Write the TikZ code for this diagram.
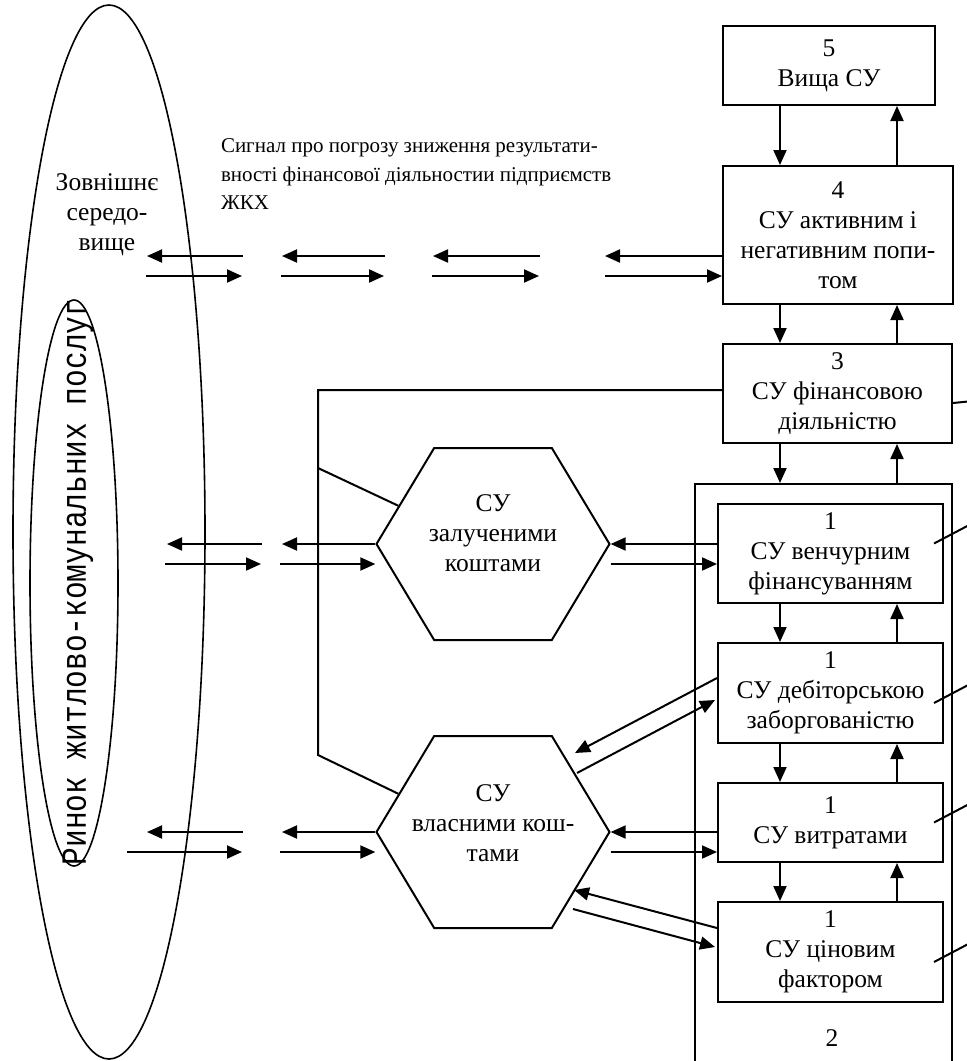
\documentclass[tikz,border=0pt]{standalone}
\usepackage{fontspec}
\usepackage{graphicx}
\setmainfont{Liberation Serif}
\newfontfamily\monofont{Liberation Mono}
\usetikzlibrary{arrows.meta,shapes.geometric,shapes.symbols,calc}

\begin{document}
\begin{tikzpicture}[x=1pt,y=-1pt,line width=2pt,
    every node/.style={font=\fontsize{25.5}{30}\selectfont, inner sep=0pt},
    arr/.style={-{Triangle[length=15pt,width=13pt]}},
    box/.style={draw, rectangle, align=center},
    hexa/.style={draw, signal, signal to=east and west, signal pointer angle=118,
      minimum width=233pt, minimum height=192pt}]

    \useasboundingbox (0,0) rectangle (967,1061);

    % Environment and market
    \node [draw, ellipse, line width=1.6pt, minimum width=192pt, minimum height=1054pt] (env) at (109,532) {};
    \node [draw, ellipse, line width=1.6pt, minimum width=88pt, minimum height=566pt] (mkt) at (74,583) {};
    \node [rotate=90] (mkttext) at (78,582)
      {\scalebox{1}[1.2]{\fontsize{29.5}{30}\monofont Ринок житлово-комунальних послуг}};
    \node [align=center] (envtext) at (107,215) {Зовнішнє\\середо-\\вище};
    \node [align=left, anchor=north west, font=\fontsize{21}{28.5}\selectfont] (sig) at (220,138)
      {Сигнал про погрозу зниження результати-\\вності фінансової діяльностии підприємств\\ЖКХ};

    % Control levels
    \node [box, minimum width=212pt, minimum height=79pt]  (b5) at (829,65.5)  {5\\Вища СУ};
    \node [box, minimum width=230pt, minimum height=138pt] (b4) at (838,235)   {4\\СУ активним і\\негативним попи-\\том};
    \node [box, minimum width=229pt, minimum height=99pt]  (b3) at (837.5,393.5) {3\\СУ фінансовою\\діяльністю};
    \node [box, minimum width=257pt, minimum height=600pt] (b2) at (823.5,784) {};
    \node (n2) at (832,1038) {2};
    \node [box, minimum width=225pt, minimum height=99pt]  (b1a) at (830.5,553.5) {1\\СУ венчурним\\фінансуванням};
    \node [box, minimum width=225pt, minimum height=100pt] (b1b) at (830.5,693)   {1\\СУ дебіторською\\заборгованістю};
    \node [box, minimum width=225pt, minimum height=79pt]  (b1c) at (830.5,822.5) {1\\СУ витратами};
    \node [box, minimum width=225pt, minimum height=100pt] (b1d) at (830.5,952)   {1\\СУ ціновим\\фактором};

    % Funds
    \node [hexa] (zal)  at (493,544) {};
    \node [align=center] (zaltext) at (493,533) {СУ\\залученими\\коштами};
    \node [hexa] (vlas) at (493,832) {};
    \node [align=center] (vlastext) at (493,823) {СУ\\власними кош-\\тами};

    % Links between levels
    \coordinate (dn) at (780,0);
    \coordinate (up) at (897,0);
    \foreach \a/\b in {b5/b4, b4/b3, b3/b2, b1a/b1b, b1b/b1c, b1c/b1d} {
      \draw [arr] (\a.south -| dn) -- (\b.north -| dn);
      \draw [arr] (\b.north -| up) -- (\a.south -| up);
    }

    % Signal towards the environment
    \foreach \xa/\xb [count=\i] in {147/243, 282/385, 433/540} {
      \coordinate (tl\i) at (\xa,256);
      \coordinate (tr\i) at (\xb,256);
      \draw [arr] (tr\i) -- (tl\i);
      \draw [arr] ($(tl\i)+(-1,20)$) -- ($(tr\i)+(-1,20)$);
    }
    \coordinate (tl4) at (605,256);
    \draw [arr] (b4.west |- tl4) -- (tl4);
    \draw [arr] ($(tl4)+(0,20)$) -- ($(b4.west |- tl4)+(0,20)$);

    % Borrowed funds
    \coordinate (ml1) at (167,544);
    \coordinate (mr1) at (262,544);
    \coordinate (ml2) at (282,544);
    \draw [arr] (mr1) -- (ml1);
    \draw [arr] ($(ml1)+(-2,20)$) -- ($(mr1)+(-1,20)$);
    \draw [arr] (zal.west) -- (ml2);
    \draw [arr] ($(ml2)+(-2,20)$) -- ($(zal.west)+(0,20)$);
    \draw [arr] (b1a.west |- zal.east) -- (zal.east);
    \draw [arr] ($(zal.east)+(0,20)$) -- ($(b1a.west |- zal.east)+(0,20)$);

    % Own funds
    \coordinate (bl1) at (147,832);
    \coordinate (br1) at (243,832);
    \coordinate (bl2) at (282,832);
    \draw [arr] (br1) -- (bl1);
    \draw [arr] ($(bl1)+(-20,20)$) -- ($(br1)+(-1,20)$);
    \draw [arr] (vlas.west) -- (bl2);
    \draw [arr] ($(bl2)+(-2,20)$) -- ($(vlas.west)+(0,20)$);
    \draw [arr] (b1c.west |- vlas.east) -- (vlas.east);
    \draw [arr] ($(vlas.east)+(0,20)$) -- ($(b1c.west |- vlas.east)+(0,20)$);

    \coordinate (dA) at (575,753);
    \coordinate (dB) at (577,773);
    \coordinate (dC) at (574,890);
    \coordinate (dD) at (573,909);
    \draw [arr] ($(b1b.west)+(0,-15)$) -- (dA);
    \draw [arr] (dB) -- ($(b1b.west)+(-2,7)$);
    \draw [arr] ($(b1d.west)+(0,-24)$) -- (dC);
    \draw [arr] (dD) -- ($(b1d.west)+(-2,-5)$);

    % Line from the financial level to both kinds of funds
    \coordinate (bus1) at (318,390);
    \coordinate (bus2) at (318,468);
    \coordinate (bus3) at (318,755);
    \draw (b3.west |- bus1) -- (bus1) -- (bus3) -- (vlas.158);
    \draw (bus2) -- (zal.158);

    % Leaders to the right margin
    \draw ($(b3.east)+(0,9.5)$) -- ++(20,-2);
    \foreach \b/\dy in {b1a/-10, b1b/10, b1c/0, b1d/10}
      \draw ($(\b.east)+(-10,\dy)$) -- ++(38,-20);

  \end{tikzpicture}
\end{document}
